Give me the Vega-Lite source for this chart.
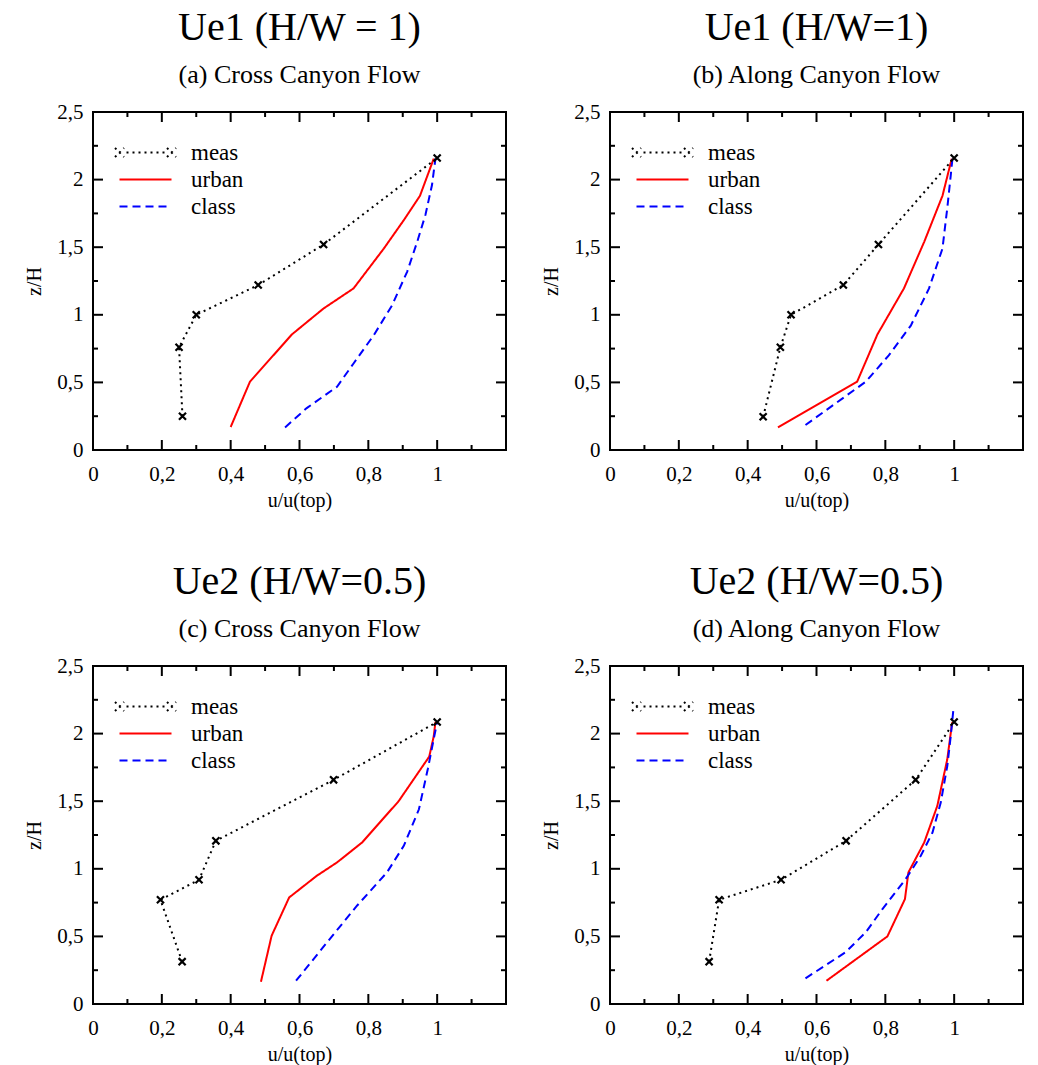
{
  "$schema": "https://vega.github.io/schema/vega-lite/v6.json",
  "background": "white",
  "padding": {"left": 23, "top": 7, "right": 5, "bottom": 5},
  "datasets": {
    "profiles": [
      {"panel":"a","series":"meas","u":0.26,"z":0.25},
      {"panel":"a","series":"meas","u":0.25,"z":0.76},
      {"panel":"a","series":"meas","u":0.30,"z":1.00},
      {"panel":"a","series":"meas","u":0.48,"z":1.22},
      {"panel":"a","series":"meas","u":0.67,"z":1.52},
      {"panel":"a","series":"meas","u":1.00,"z":2.16},
      {"panel":"a","series":"urban","u":0.40,"z":0.17},
      {"panel":"a","series":"urban","u":0.456,"z":0.505},
      {"panel":"a","series":"urban","u":0.578,"z":0.855},
      {"panel":"a","series":"urban","u":0.67,"z":1.047},
      {"panel":"a","series":"urban","u":0.757,"z":1.195},
      {"panel":"a","series":"urban","u":0.845,"z":1.49},
      {"panel":"a","series":"urban","u":0.903,"z":1.70},
      {"panel":"a","series":"urban","u":0.95,"z":1.88},
      {"panel":"a","series":"urban","u":0.99,"z":2.155},
      {"panel":"a","series":"class","u":0.558,"z":0.167},
      {"panel":"a","series":"class","u":0.621,"z":0.31},
      {"panel":"a","series":"class","u":0.709,"z":0.468},
      {"panel":"a","series":"class","u":0.757,"z":0.64},
      {"panel":"a","series":"class","u":0.816,"z":0.85},
      {"panel":"a","series":"class","u":0.869,"z":1.07},
      {"panel":"a","series":"class","u":0.913,"z":1.32},
      {"panel":"a","series":"class","u":0.942,"z":1.54},
      {"panel":"a","series":"class","u":0.966,"z":1.74},
      {"panel":"a","series":"class","u":0.985,"z":1.96},
      {"panel":"a","series":"class","u":0.995,"z":2.155},
      {"panel":"b","series":"meas","u":0.445,"z":0.246},
      {"panel":"b","series":"meas","u":0.495,"z":0.76},
      {"panel":"b","series":"meas","u":0.526,"z":1.00},
      {"panel":"b","series":"meas","u":0.678,"z":1.22},
      {"panel":"b","series":"meas","u":0.78,"z":1.52},
      {"panel":"b","series":"meas","u":1.00,"z":2.16},
      {"panel":"b","series":"urban","u":0.488,"z":0.167},
      {"panel":"b","series":"urban","u":0.718,"z":0.505},
      {"panel":"b","series":"urban","u":0.777,"z":0.855},
      {"panel":"b","series":"urban","u":0.854,"z":1.195},
      {"panel":"b","series":"urban","u":0.913,"z":1.54},
      {"panel":"b","series":"urban","u":0.966,"z":1.88},
      {"panel":"b","series":"urban","u":0.993,"z":2.155},
      {"panel":"b","series":"class","u":0.568,"z":0.185},
      {"panel":"b","series":"class","u":0.743,"z":0.505},
      {"panel":"b","series":"class","u":0.81,"z":0.70},
      {"panel":"b","series":"class","u":0.874,"z":0.92},
      {"panel":"b","series":"class","u":0.927,"z":1.195},
      {"panel":"b","series":"class","u":0.966,"z":1.49},
      {"panel":"b","series":"class","u":0.98,"z":1.79},
      {"panel":"b","series":"class","u":0.99,"z":2.03},
      {"panel":"b","series":"class","u":0.995,"z":2.155},
      {"panel":"c","series":"meas","u":0.259,"z":0.313},
      {"panel":"c","series":"meas","u":0.196,"z":0.771},
      {"panel":"c","series":"meas","u":0.308,"z":0.919},
      {"panel":"c","series":"meas","u":0.357,"z":1.207},
      {"panel":"c","series":"meas","u":0.699,"z":1.658},
      {"panel":"c","series":"meas","u":1.00,"z":2.086},
      {"panel":"c","series":"urban","u":0.488,"z":0.165},
      {"panel":"c","series":"urban","u":0.519,"z":0.505},
      {"panel":"c","series":"urban","u":0.57,"z":0.788},
      {"panel":"c","series":"urban","u":0.65,"z":0.948},
      {"panel":"c","series":"urban","u":0.709,"z":1.047},
      {"panel":"c","series":"urban","u":0.782,"z":1.195},
      {"panel":"c","series":"urban","u":0.888,"z":1.50},
      {"panel":"c","series":"urban","u":0.977,"z":1.83},
      {"panel":"c","series":"urban","u":0.99,"z":1.98},
      {"panel":"c","series":"urban","u":0.995,"z":2.086},
      {"panel":"c","series":"class","u":0.59,"z":0.172},
      {"panel":"c","series":"class","u":0.68,"z":0.456},
      {"panel":"c","series":"class","u":0.767,"z":0.727},
      {"panel":"c","series":"class","u":0.854,"z":0.973},
      {"panel":"c","series":"class","u":0.903,"z":1.17},
      {"panel":"c","series":"class","u":0.947,"z":1.44},
      {"panel":"c","series":"class","u":0.973,"z":1.74},
      {"panel":"c","series":"class","u":0.99,"z":1.96},
      {"panel":"c","series":"class","u":1.00,"z":2.086},
      {"panel":"d","series":"meas","u":0.288,"z":0.313},
      {"panel":"d","series":"meas","u":0.317,"z":0.771},
      {"panel":"d","series":"meas","u":0.497,"z":0.919},
      {"panel":"d","series":"meas","u":0.686,"z":1.207},
      {"panel":"d","series":"meas","u":0.888,"z":1.658},
      {"panel":"d","series":"meas","u":1.00,"z":2.086},
      {"panel":"d","series":"urban","u":0.629,"z":0.172},
      {"panel":"d","series":"urban","u":0.806,"z":0.50},
      {"panel":"d","series":"urban","u":0.857,"z":0.776},
      {"panel":"d","series":"urban","u":0.867,"z":0.973},
      {"panel":"d","series":"urban","u":0.913,"z":1.195},
      {"panel":"d","series":"urban","u":0.951,"z":1.465},
      {"panel":"d","series":"urban","u":0.98,"z":1.81},
      {"panel":"d","series":"urban","u":0.993,"z":2.06},
      {"panel":"d","series":"urban","u":0.995,"z":2.086},
      {"panel":"d","series":"class","u":0.568,"z":0.19},
      {"panel":"d","series":"class","u":0.684,"z":0.382},
      {"panel":"d","series":"class","u":0.743,"z":0.53},
      {"panel":"d","series":"class","u":0.791,"z":0.70},
      {"panel":"d","series":"class","u":0.859,"z":0.924},
      {"panel":"d","series":"class","u":0.903,"z":1.096},
      {"panel":"d","series":"class","u":0.937,"z":1.268},
      {"panel":"d","series":"class","u":0.961,"z":1.49},
      {"panel":"d","series":"class","u":0.98,"z":1.76},
      {"panel":"d","series":"class","u":0.99,"z":1.98},
      {"panel":"d","series":"class","u":0.998,"z":2.185}
    ],
    "ticks": [
      {"ax":"x","v":0.1,"kind":"minor","at":0},{"ax":"x","v":0.2,"kind":"major","at":0},{"ax":"x","v":0.3,"kind":"minor","at":0},{"ax":"x","v":0.4,"kind":"major","at":0},
      {"ax":"x","v":0.5,"kind":"minor","at":0},{"ax":"x","v":0.6,"kind":"major","at":0},{"ax":"x","v":0.7,"kind":"minor","at":0},{"ax":"x","v":0.8,"kind":"major","at":0},
      {"ax":"x","v":0.9,"kind":"minor","at":0},{"ax":"x","v":1.0,"kind":"major","at":0},{"ax":"x","v":1.1,"kind":"minor","at":0},
      {"ax":"x","v":0.1,"kind":"minor","at":2.5},{"ax":"x","v":0.2,"kind":"major","at":2.5},{"ax":"x","v":0.3,"kind":"minor","at":2.5},{"ax":"x","v":0.4,"kind":"major","at":2.5},
      {"ax":"x","v":0.5,"kind":"minor","at":2.5},{"ax":"x","v":0.6,"kind":"major","at":2.5},{"ax":"x","v":0.7,"kind":"minor","at":2.5},{"ax":"x","v":0.8,"kind":"major","at":2.5},
      {"ax":"x","v":0.9,"kind":"minor","at":2.5},{"ax":"x","v":1.0,"kind":"major","at":2.5},{"ax":"x","v":1.1,"kind":"minor","at":2.5},
      {"ax":"y","v":0.25,"kind":"minor","at":0},{"ax":"y","v":0.5,"kind":"major","at":0},{"ax":"y","v":0.75,"kind":"minor","at":0},{"ax":"y","v":1.0,"kind":"major","at":0},
      {"ax":"y","v":1.25,"kind":"minor","at":0},{"ax":"y","v":1.5,"kind":"major","at":0},{"ax":"y","v":1.75,"kind":"minor","at":0},{"ax":"y","v":2.0,"kind":"major","at":0},
      {"ax":"y","v":2.25,"kind":"minor","at":0},
      {"ax":"y","v":0.25,"kind":"minor","at":1.2},{"ax":"y","v":0.5,"kind":"major","at":1.2},{"ax":"y","v":0.75,"kind":"minor","at":1.2},{"ax":"y","v":1.0,"kind":"major","at":1.2},
      {"ax":"y","v":1.25,"kind":"minor","at":1.2},{"ax":"y","v":1.5,"kind":"major","at":1.2},{"ax":"y","v":1.75,"kind":"minor","at":1.2},{"ax":"y","v":2.0,"kind":"major","at":1.2},
      {"ax":"y","v":2.25,"kind":"minor","at":1.2}
    ]
  },
  "data": {"name": "profiles"},
  "columns": 2,
  "spacing": {"row": 50, "column": 33},
  "resolve": {"scale": {"color": "independent", "strokeDash": "independent"}, "legend": {"color": "independent"}},
  "concat": [
    {
      "width": 413, "height": 338,
      "title": {"text": "Ue1 (H/W = 1)", "subtitle": "(a) Cross Canyon Flow"},
      "layer": [
        {"transform": [{"filter": "datum.panel === 'a'"}],
         "mark": {"type": "line", "strokeWidth": 2, "strokeCap": "butt"},
         "encoding": {
           "x": {"field": "u", "type": "quantitative", "scale": {"domain": [0, 1.2], "nice": false, "zero": false}, "axis": {"orient": "bottom", "values": [0,0.2,0.4,0.6,0.8,1], "ticks": false, "labelExpr": "replace(format(datum.value,'~g'),'.',',')", "labelPadding": 13, "title": "u/u(top)", "titlePadding": 6}},
           "y": {"field": "z", "type": "quantitative", "scale": {"domain": [0, 2.5], "nice": false}, "axis": {"orient": "left", "values": [0,0.5,1,1.5,2,2.5], "ticks": false, "labelExpr": "replace(format(datum.value,'~g'),'.',',')", "labelPadding": 10, "title": "z/H", "titlePadding": 12}},
           "order": {"field": "z", "type": "quantitative"},
           "color": {"field": "series", "type": "nominal", "scale": {"domain": ["meas", "urban", "class"], "range": ["#000000", "#ff0000", "#0000ff"]},
                     "legend": {"title": null, "orient": "none", "legendX": 41, "legendY": 29, "padding": 0, "symbolType": "stroke", "symbolSize": 400, "symbolStrokeWidth": 2, "labelOffset": 34, "labelFont": "Liberation Serif", "labelFontSize": 23, "labelColor": "black", "rowPadding": 3,
                       "encode": {"symbols": {"update": {"shape": {"signal": "datum.value === 'meas' ? 'M-3.05,-0.45L-2.15,0.45M-3.05,0.45L-2.15,-0.45M2.15,-0.45L3.05,0.45M2.15,0.45L3.05,-0.45M-1.9,0L-1.7,0M-1.3,0L-1.1,0M-0.7,0L-0.5,0M-0.1,0L0.1,0M0.5,0L0.7,0M1.1,0L1.3,0M1.7,0L1.9,0' : 'M-2.6,0L2.6,0'"}, "strokeDash": {"signal": "datum.value === 'class' ? [8,5] : [1,0]"}, "fill": {"value": "transparent"}}}}}},
           "strokeDash": {"field": "series", "type": "nominal", "scale": {"domain": ["meas", "urban", "class"], "range": [[2,4],[1,0],[8,5]]}, "legend": null}
         }},
        {"transform": [{"filter": "datum.panel === 'a' && datum.series === 'meas'"}],
         "mark": {"type": "point", "shape": "M-1,-1L1,1M1,-1L-1,1", "size": 50, "filled": false, "stroke": "black", "strokeWidth": 2.2, "opacity": 1},
         "encoding": {"x": {"field": "u", "type": "quantitative"}, "y": {"field": "z", "type": "quantitative"}}},
        {"data": {"name": "ticks"}, "transform": [{"filter": "datum.ax === 'x'"}],
         "mark": {"type": "tick", "orient": "vertical", "thickness": 2, "color": "black", "opacity": 1, "clip": true},
         "encoding": {"x": {"field": "v", "type": "quantitative"}, "y": {"field": "at", "type": "quantitative"}, "size": {"field": "kind", "type": "ordinal", "scale": {"domain": ["major", "minor"], "range": [20, 10]}, "legend": null}}},
        {"data": {"name": "ticks"}, "transform": [{"filter": "datum.ax === 'y'"}],
         "mark": {"type": "tick", "orient": "horizontal", "thickness": 2, "color": "black", "opacity": 1, "clip": true},
         "encoding": {"y": {"field": "v", "type": "quantitative"}, "x": {"field": "at", "type": "quantitative"}, "size": {"field": "kind", "type": "ordinal", "scale": {"domain": ["major", "minor"], "range": [20, 10]}, "legend": null}}}
      ]
    },
    {
      "width": 413, "height": 338,
      "title": {"text": "Ue1 (H/W=1)", "subtitle": "(b) Along Canyon Flow"},
      "layer": [
        {"transform": [{"filter": "datum.panel === 'b'"}],
         "mark": {"type": "line", "strokeWidth": 2, "strokeCap": "butt"},
         "encoding": {
           "x": {"field": "u", "type": "quantitative", "scale": {"domain": [0, 1.2], "nice": false, "zero": false}, "axis": {"orient": "bottom", "values": [0,0.2,0.4,0.6,0.8,1], "ticks": false, "labelExpr": "replace(format(datum.value,'~g'),'.',',')", "labelPadding": 13, "title": "u/u(top)", "titlePadding": 6}},
           "y": {"field": "z", "type": "quantitative", "scale": {"domain": [0, 2.5], "nice": false}, "axis": {"orient": "left", "values": [0,0.5,1,1.5,2,2.5], "ticks": false, "labelExpr": "replace(format(datum.value,'~g'),'.',',')", "labelPadding": 10, "title": "z/H", "titlePadding": 12}},
           "order": {"field": "z", "type": "quantitative"},
           "color": {"field": "series", "type": "nominal", "scale": {"domain": ["meas", "urban", "class"], "range": ["#000000", "#ff0000", "#0000ff"]},
                     "legend": {"title": null, "orient": "none", "legendX": 41, "legendY": 29, "padding": 0, "symbolType": "stroke", "symbolSize": 400, "symbolStrokeWidth": 2, "labelOffset": 34, "labelFont": "Liberation Serif", "labelFontSize": 23, "labelColor": "black", "rowPadding": 3,
                       "encode": {"symbols": {"update": {"shape": {"signal": "datum.value === 'meas' ? 'M-3.05,-0.45L-2.15,0.45M-3.05,0.45L-2.15,-0.45M2.15,-0.45L3.05,0.45M2.15,0.45L3.05,-0.45M-1.9,0L-1.7,0M-1.3,0L-1.1,0M-0.7,0L-0.5,0M-0.1,0L0.1,0M0.5,0L0.7,0M1.1,0L1.3,0M1.7,0L1.9,0' : 'M-2.6,0L2.6,0'"}, "strokeDash": {"signal": "datum.value === 'class' ? [8,5] : [1,0]"}, "fill": {"value": "transparent"}}}}}},
           "strokeDash": {"field": "series", "type": "nominal", "scale": {"domain": ["meas", "urban", "class"], "range": [[2,4],[1,0],[8,5]]}, "legend": null}
         }},
        {"transform": [{"filter": "datum.panel === 'b' && datum.series === 'meas'"}],
         "mark": {"type": "point", "shape": "M-1,-1L1,1M1,-1L-1,1", "size": 50, "filled": false, "stroke": "black", "strokeWidth": 2.2, "opacity": 1},
         "encoding": {"x": {"field": "u", "type": "quantitative"}, "y": {"field": "z", "type": "quantitative"}}},
        {"data": {"name": "ticks"}, "transform": [{"filter": "datum.ax === 'x'"}],
         "mark": {"type": "tick", "orient": "vertical", "thickness": 2, "color": "black", "opacity": 1, "clip": true},
         "encoding": {"x": {"field": "v", "type": "quantitative"}, "y": {"field": "at", "type": "quantitative"}, "size": {"field": "kind", "type": "ordinal", "scale": {"domain": ["major", "minor"], "range": [20, 10]}, "legend": null}}},
        {"data": {"name": "ticks"}, "transform": [{"filter": "datum.ax === 'y'"}],
         "mark": {"type": "tick", "orient": "horizontal", "thickness": 2, "color": "black", "opacity": 1, "clip": true},
         "encoding": {"y": {"field": "v", "type": "quantitative"}, "x": {"field": "at", "type": "quantitative"}, "size": {"field": "kind", "type": "ordinal", "scale": {"domain": ["major", "minor"], "range": [20, 10]}, "legend": null}}}
      ]
    },
    {
      "width": 413, "height": 338,
      "title": {"text": "Ue2 (H/W=0.5)", "subtitle": "(c) Cross Canyon Flow"},
      "layer": [
        {"transform": [{"filter": "datum.panel === 'c'"}],
         "mark": {"type": "line", "strokeWidth": 2, "strokeCap": "butt"},
         "encoding": {
           "x": {"field": "u", "type": "quantitative", "scale": {"domain": [0, 1.2], "nice": false, "zero": false}, "axis": {"orient": "bottom", "values": [0,0.2,0.4,0.6,0.8,1], "ticks": false, "labelExpr": "replace(format(datum.value,'~g'),'.',',')", "labelPadding": 13, "title": "u/u(top)", "titlePadding": 6}},
           "y": {"field": "z", "type": "quantitative", "scale": {"domain": [0, 2.5], "nice": false}, "axis": {"orient": "left", "values": [0,0.5,1,1.5,2,2.5], "ticks": false, "labelExpr": "replace(format(datum.value,'~g'),'.',',')", "labelPadding": 10, "title": "z/H", "titlePadding": 12}},
           "order": {"field": "z", "type": "quantitative"},
           "color": {"field": "series", "type": "nominal", "scale": {"domain": ["meas", "urban", "class"], "range": ["#000000", "#ff0000", "#0000ff"]},
                     "legend": {"title": null, "orient": "none", "legendX": 41, "legendY": 29, "padding": 0, "symbolType": "stroke", "symbolSize": 400, "symbolStrokeWidth": 2, "labelOffset": 34, "labelFont": "Liberation Serif", "labelFontSize": 23, "labelColor": "black", "rowPadding": 3,
                       "encode": {"symbols": {"update": {"shape": {"signal": "datum.value === 'meas' ? 'M-3.05,-0.45L-2.15,0.45M-3.05,0.45L-2.15,-0.45M2.15,-0.45L3.05,0.45M2.15,0.45L3.05,-0.45M-1.9,0L-1.7,0M-1.3,0L-1.1,0M-0.7,0L-0.5,0M-0.1,0L0.1,0M0.5,0L0.7,0M1.1,0L1.3,0M1.7,0L1.9,0' : 'M-2.6,0L2.6,0'"}, "strokeDash": {"signal": "datum.value === 'class' ? [8,5] : [1,0]"}, "fill": {"value": "transparent"}}}}}},
           "strokeDash": {"field": "series", "type": "nominal", "scale": {"domain": ["meas", "urban", "class"], "range": [[2,4],[1,0],[8,5]]}, "legend": null}
         }},
        {"transform": [{"filter": "datum.panel === 'c' && datum.series === 'meas'"}],
         "mark": {"type": "point", "shape": "M-1,-1L1,1M1,-1L-1,1", "size": 50, "filled": false, "stroke": "black", "strokeWidth": 2.2, "opacity": 1},
         "encoding": {"x": {"field": "u", "type": "quantitative"}, "y": {"field": "z", "type": "quantitative"}}},
        {"data": {"name": "ticks"}, "transform": [{"filter": "datum.ax === 'x'"}],
         "mark": {"type": "tick", "orient": "vertical", "thickness": 2, "color": "black", "opacity": 1, "clip": true},
         "encoding": {"x": {"field": "v", "type": "quantitative"}, "y": {"field": "at", "type": "quantitative"}, "size": {"field": "kind", "type": "ordinal", "scale": {"domain": ["major", "minor"], "range": [20, 10]}, "legend": null}}},
        {"data": {"name": "ticks"}, "transform": [{"filter": "datum.ax === 'y'"}],
         "mark": {"type": "tick", "orient": "horizontal", "thickness": 2, "color": "black", "opacity": 1, "clip": true},
         "encoding": {"y": {"field": "v", "type": "quantitative"}, "x": {"field": "at", "type": "quantitative"}, "size": {"field": "kind", "type": "ordinal", "scale": {"domain": ["major", "minor"], "range": [20, 10]}, "legend": null}}}
      ]
    },
    {
      "width": 413, "height": 338,
      "title": {"text": "Ue2 (H/W=0.5)", "subtitle": "(d) Along Canyon Flow"},
      "layer": [
        {"transform": [{"filter": "datum.panel === 'd'"}],
         "mark": {"type": "line", "strokeWidth": 2, "strokeCap": "butt"},
         "encoding": {
           "x": {"field": "u", "type": "quantitative", "scale": {"domain": [0, 1.2], "nice": false, "zero": false}, "axis": {"orient": "bottom", "values": [0,0.2,0.4,0.6,0.8,1], "ticks": false, "labelExpr": "replace(format(datum.value,'~g'),'.',',')", "labelPadding": 13, "title": "u/u(top)", "titlePadding": 6}},
           "y": {"field": "z", "type": "quantitative", "scale": {"domain": [0, 2.5], "nice": false}, "axis": {"orient": "left", "values": [0,0.5,1,1.5,2,2.5], "ticks": false, "labelExpr": "replace(format(datum.value,'~g'),'.',',')", "labelPadding": 10, "title": "z/H", "titlePadding": 12}},
           "order": {"field": "z", "type": "quantitative"},
           "color": {"field": "series", "type": "nominal", "scale": {"domain": ["meas", "urban", "class"], "range": ["#000000", "#ff0000", "#0000ff"]},
                     "legend": {"title": null, "orient": "none", "legendX": 41, "legendY": 29, "padding": 0, "symbolType": "stroke", "symbolSize": 400, "symbolStrokeWidth": 2, "labelOffset": 34, "labelFont": "Liberation Serif", "labelFontSize": 23, "labelColor": "black", "rowPadding": 3,
                       "encode": {"symbols": {"update": {"shape": {"signal": "datum.value === 'meas' ? 'M-3.05,-0.45L-2.15,0.45M-3.05,0.45L-2.15,-0.45M2.15,-0.45L3.05,0.45M2.15,0.45L3.05,-0.45M-1.9,0L-1.7,0M-1.3,0L-1.1,0M-0.7,0L-0.5,0M-0.1,0L0.1,0M0.5,0L0.7,0M1.1,0L1.3,0M1.7,0L1.9,0' : 'M-2.6,0L2.6,0'"}, "strokeDash": {"signal": "datum.value === 'class' ? [8,5] : [1,0]"}, "fill": {"value": "transparent"}}}}}},
           "strokeDash": {"field": "series", "type": "nominal", "scale": {"domain": ["meas", "urban", "class"], "range": [[2,4],[1,0],[8,5]]}, "legend": null}
         }},
        {"transform": [{"filter": "datum.panel === 'd' && datum.series === 'meas'"}],
         "mark": {"type": "point", "shape": "M-1,-1L1,1M1,-1L-1,1", "size": 50, "filled": false, "stroke": "black", "strokeWidth": 2.2, "opacity": 1},
         "encoding": {"x": {"field": "u", "type": "quantitative"}, "y": {"field": "z", "type": "quantitative"}}},
        {"data": {"name": "ticks"}, "transform": [{"filter": "datum.ax === 'x'"}],
         "mark": {"type": "tick", "orient": "vertical", "thickness": 2, "color": "black", "opacity": 1, "clip": true},
         "encoding": {"x": {"field": "v", "type": "quantitative"}, "y": {"field": "at", "type": "quantitative"}, "size": {"field": "kind", "type": "ordinal", "scale": {"domain": ["major", "minor"], "range": [20, 10]}, "legend": null}}},
        {"data": {"name": "ticks"}, "transform": [{"filter": "datum.ax === 'y'"}],
         "mark": {"type": "tick", "orient": "horizontal", "thickness": 2, "color": "black", "opacity": 1, "clip": true},
         "encoding": {"y": {"field": "v", "type": "quantitative"}, "x": {"field": "at", "type": "quantitative"}, "size": {"field": "kind", "type": "ordinal", "scale": {"domain": ["major", "minor"], "range": [20, 10]}, "legend": null}}}
      ]
    }
  ],
  "config": {
    "font": "Liberation Serif",
    "view": {"stroke": "black", "strokeWidth": 2},
    "axis": {"domain": false, "grid": false, "labelFont": "Liberation Serif", "labelFontSize": 21, "labelColor": "black", "titleFont": "Liberation Serif", "titleFontSize": 20, "titleFontWeight": "normal", "titleColor": "black", "labelOverlap": false, "labelFlush": false, "labelBound": false},
    "title": {"font": "Liberation Serif", "fontSize": 40, "fontWeight": "normal", "color": "black", "subtitleFont": "Liberation Serif", "subtitleFontSize": 26, "subtitleColor": "black", "subtitlePadding": 14, "offset": 13, "frame": "group", "anchor": "middle"}
  }
}
